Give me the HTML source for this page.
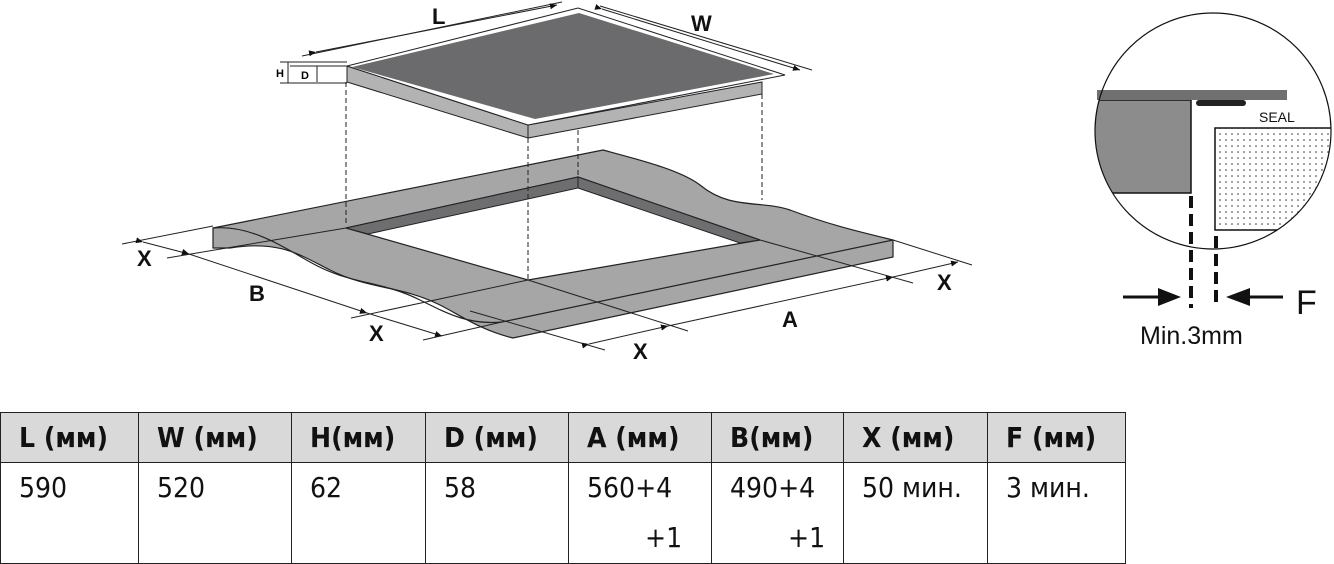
<!DOCTYPE html>
<html><head><meta charset="utf-8"><style>
body{margin:0;width:1334px;height:563px;background:#fff;overflow:hidden;position:relative;font-family:"Liberation Sans","DejaVu Sans",sans-serif}
table{position:absolute;left:0;top:412px;border-collapse:collapse;table-layout:fixed}
td{border:1.5px solid #222;vertical-align:top;padding:0 0 0 18px;font-size:28px;color:#111;font-family:"DejaVu Sans Condensed","Liberation Sans",sans-serif;white-space:nowrap;overflow:hidden}
tr.h td{background:#d9d9d9;height:49px;font-weight:bold;vertical-align:middle;font-size:28px}
tr.b td{height:99px;line-height:50px;padding-top:0}
</style></head><body>
<svg width="1334" height="410" style="position:absolute;left:0;top:0" font-family="Liberation Sans, sans-serif">
<defs>
<pattern id="dots" width="6" height="6" patternUnits="userSpaceOnUse"><circle cx="2" cy="2" r="0.8" fill="#333"/></pattern>
<marker id="ar" markerWidth="8" markerHeight="8" refX="7" refY="4" orient="auto"><path d="M0,1 L7,4 L0,7z" fill="#111"/></marker>
<clipPath id="cc"><circle cx="1213" cy="131" r="118"/></clipPath>
</defs>
<!-- countertop -->
<path d="M213,228 L603,150 C640,160 680,170 700,185 C730,210 760,200 790,210 C830,225 860,232 893,240 L893,257 L513,338 C480,330 460,315 440,305 C400,285 370,290 330,270 C300,255 280,240 230,248 L213,248 Z" fill="#a6a6a6" stroke="#222" stroke-width="1.2"/>
<path d="M213,228 C250,225 280,245 310,262 C350,285 380,280 420,300 C450,315 470,325 502,322 L893,240" fill="none" stroke="#222" stroke-width="1.2"/>
<!-- hole -->
<path d="M346,228 L578,177 L760,240 L528,280 Z" fill="#fff" stroke="#222" stroke-width="1.2"/>
<path d="M346,228 L578,177 L578,188 L368,234 Z" fill="#6e6e70" stroke="#222" stroke-width="1"/>
<path d="M578,177 L760,240 L740,243 L578,188 Z" fill="#6e6e70" stroke="#222" stroke-width="1"/>
<!-- dashed projections -->
<g stroke="#222" stroke-dasharray="5,3" stroke-width="1">
<line x1="346" y1="82" x2="346" y2="226"/><line x1="528" y1="138" x2="528" y2="280"/><line x1="578" y1="130" x2="578" y2="177"/><line x1="762" y1="94" x2="762" y2="200"/>
</g>
<!-- hob -->
<path d="M347,66 L528,125 L528,138 L347,82 Z" fill="#b3b3b3" stroke="#222" stroke-width="1"/>
<path d="M528,125 L762,82 L762,94 L528,138 Z" fill="#b3b3b3" stroke="#222" stroke-width="1"/>
<path d="M347,66 L578,8 L785,75 L528,125 Z" fill="#fff" stroke="#222" stroke-width="1"/>
<path d="M352,67 L579,13 L774,74 L535,119 Z" fill="#6b6b6d"/>
<g stroke="#222" stroke-width="1" fill="none">
<line x1="302" y1="56" x2="562" y2="2"/><line x1="316" y1="52" x2="557" y2="5" marker-end="url(#ar)" marker-start="url(#ar)"/>
<line x1="600" y1="6" x2="812" y2="70"/><line x1="602" y1="9" x2="800" y2="70" marker-end="url(#ar)" marker-start="url(#ar)"/>
<line x1="280" y1="62" x2="347" y2="62"/><line x1="280" y1="83" x2="347" y2="83"/><line x1="290" y1="66" x2="346" y2="66"/>
<line x1="288" y1="62" x2="288" y2="83"/><line x1="317" y1="66" x2="317" y2="82"/>
<!-- extension lines -->
<line x1="122" y1="244" x2="213" y2="226"/>
<line x1="167" y1="258" x2="346" y2="228"/>
<line x1="351" y1="318" x2="528" y2="280"/>
<line x1="423" y1="340" x2="502" y2="322"/>
<line x1="528" y1="280" x2="688" y2="331"/>
<line x1="470" y1="311" x2="605" y2="350"/>
<line x1="760" y1="240" x2="913" y2="283"/>
<line x1="893" y1="240" x2="972" y2="265"/>
<!-- dims -->
<line x1="143" y1="242" x2="189" y2="254" marker-start="url(#ar)" marker-end="url(#ar)"/>
<line x1="189" y1="254" x2="367" y2="313" marker-start="url(#ar)" marker-end="url(#ar)"/>
<line x1="367" y1="313" x2="442" y2="336" marker-start="url(#ar)" marker-end="url(#ar)"/>
<line x1="589" y1="344" x2="668" y2="326" marker-start="url(#ar)" marker-end="url(#ar)"/>
<line x1="668" y1="326" x2="893" y2="277" marker-start="url(#ar)" marker-end="url(#ar)"/>
<line x1="893" y1="277" x2="958" y2="262" marker-start="url(#ar)" marker-end="url(#ar)"/>
</g>
<g font-size="22" font-weight="bold" fill="#111">
<text x="432" y="24">L</text><text x="691" y="31">W</text>
<text x="137" y="266">X</text><text x="249" y="301">B</text><text x="369" y="341">X</text>
<text x="633" y="359">X</text><text x="782" y="327">A</text><text x="937" y="290">X</text>
</g>
<text x="276" y="77" font-size="11" font-weight="bold">H</text><text x="301" y="79" font-size="11" font-weight="bold">D</text>
<!-- detail circle -->
<g clip-path="url(#cc)">
<rect x="1090" y="100" width="101" height="93" fill="#8c8c8c" stroke="#111" stroke-width="1.5"/>
<rect x="1215" y="128" width="130" height="102" fill="url(#dots)" stroke="#111" stroke-width="1.5"/>
</g>
<rect x="1097" y="90" width="190" height="10" fill="#707072"/>
<rect x="1196" y="100" width="50" height="6" rx="3" fill="#222"/>
<circle cx="1213" cy="131" r="118" fill="none" stroke="#111" stroke-width="1.2"/>
<text x="1259" y="122" font-size="14" fill="#111">SEAL</text>
<g stroke="#111" stroke-width="4" stroke-dasharray="12,6"><line x1="1191" y1="196" x2="1191" y2="308"/><line x1="1216" y1="236" x2="1216" y2="308"/></g>
<line x1="1123" y1="297" x2="1160" y2="297" stroke="#111" stroke-width="3"/><path d="M1158,288 L1181,297 L1158,306 Z" fill="#111"/>
<line x1="1248" y1="297" x2="1283" y2="297" stroke="#111" stroke-width="3"/><path d="M1250,288 L1226,297 L1250,306 Z" fill="#111"/>
<text x="1296" y="314" font-size="34" fill="#111">F</text>
<text x="1140" y="344" font-size="25" fill="#111">Min.3mm</text>
</svg>
<table>
<colgroup><col style="width:138px"><col style="width:153px"><col style="width:134px"><col style="width:143px"><col style="width:143px"><col style="width:132px"><col style="width:144px"><col style="width:138px"></colgroup>
<tr class="h"><td>L (мм)</td><td>W (мм)</td><td>H(мм)</td><td>D (мм)</td><td>A (мм)</td><td>B(мм)</td><td>X (мм)</td><td>F (мм)</td></tr>
<tr class="b"><td>590</td><td>520</td><td>62</td><td>58</td><td>560+4<br><span style="padding-left:58px">+1</span></td><td>490+4<br><span style="padding-left:58px">+1</span></td><td>50 мин.</td><td>3 мин.</td></tr>
</table>
</body></html>
